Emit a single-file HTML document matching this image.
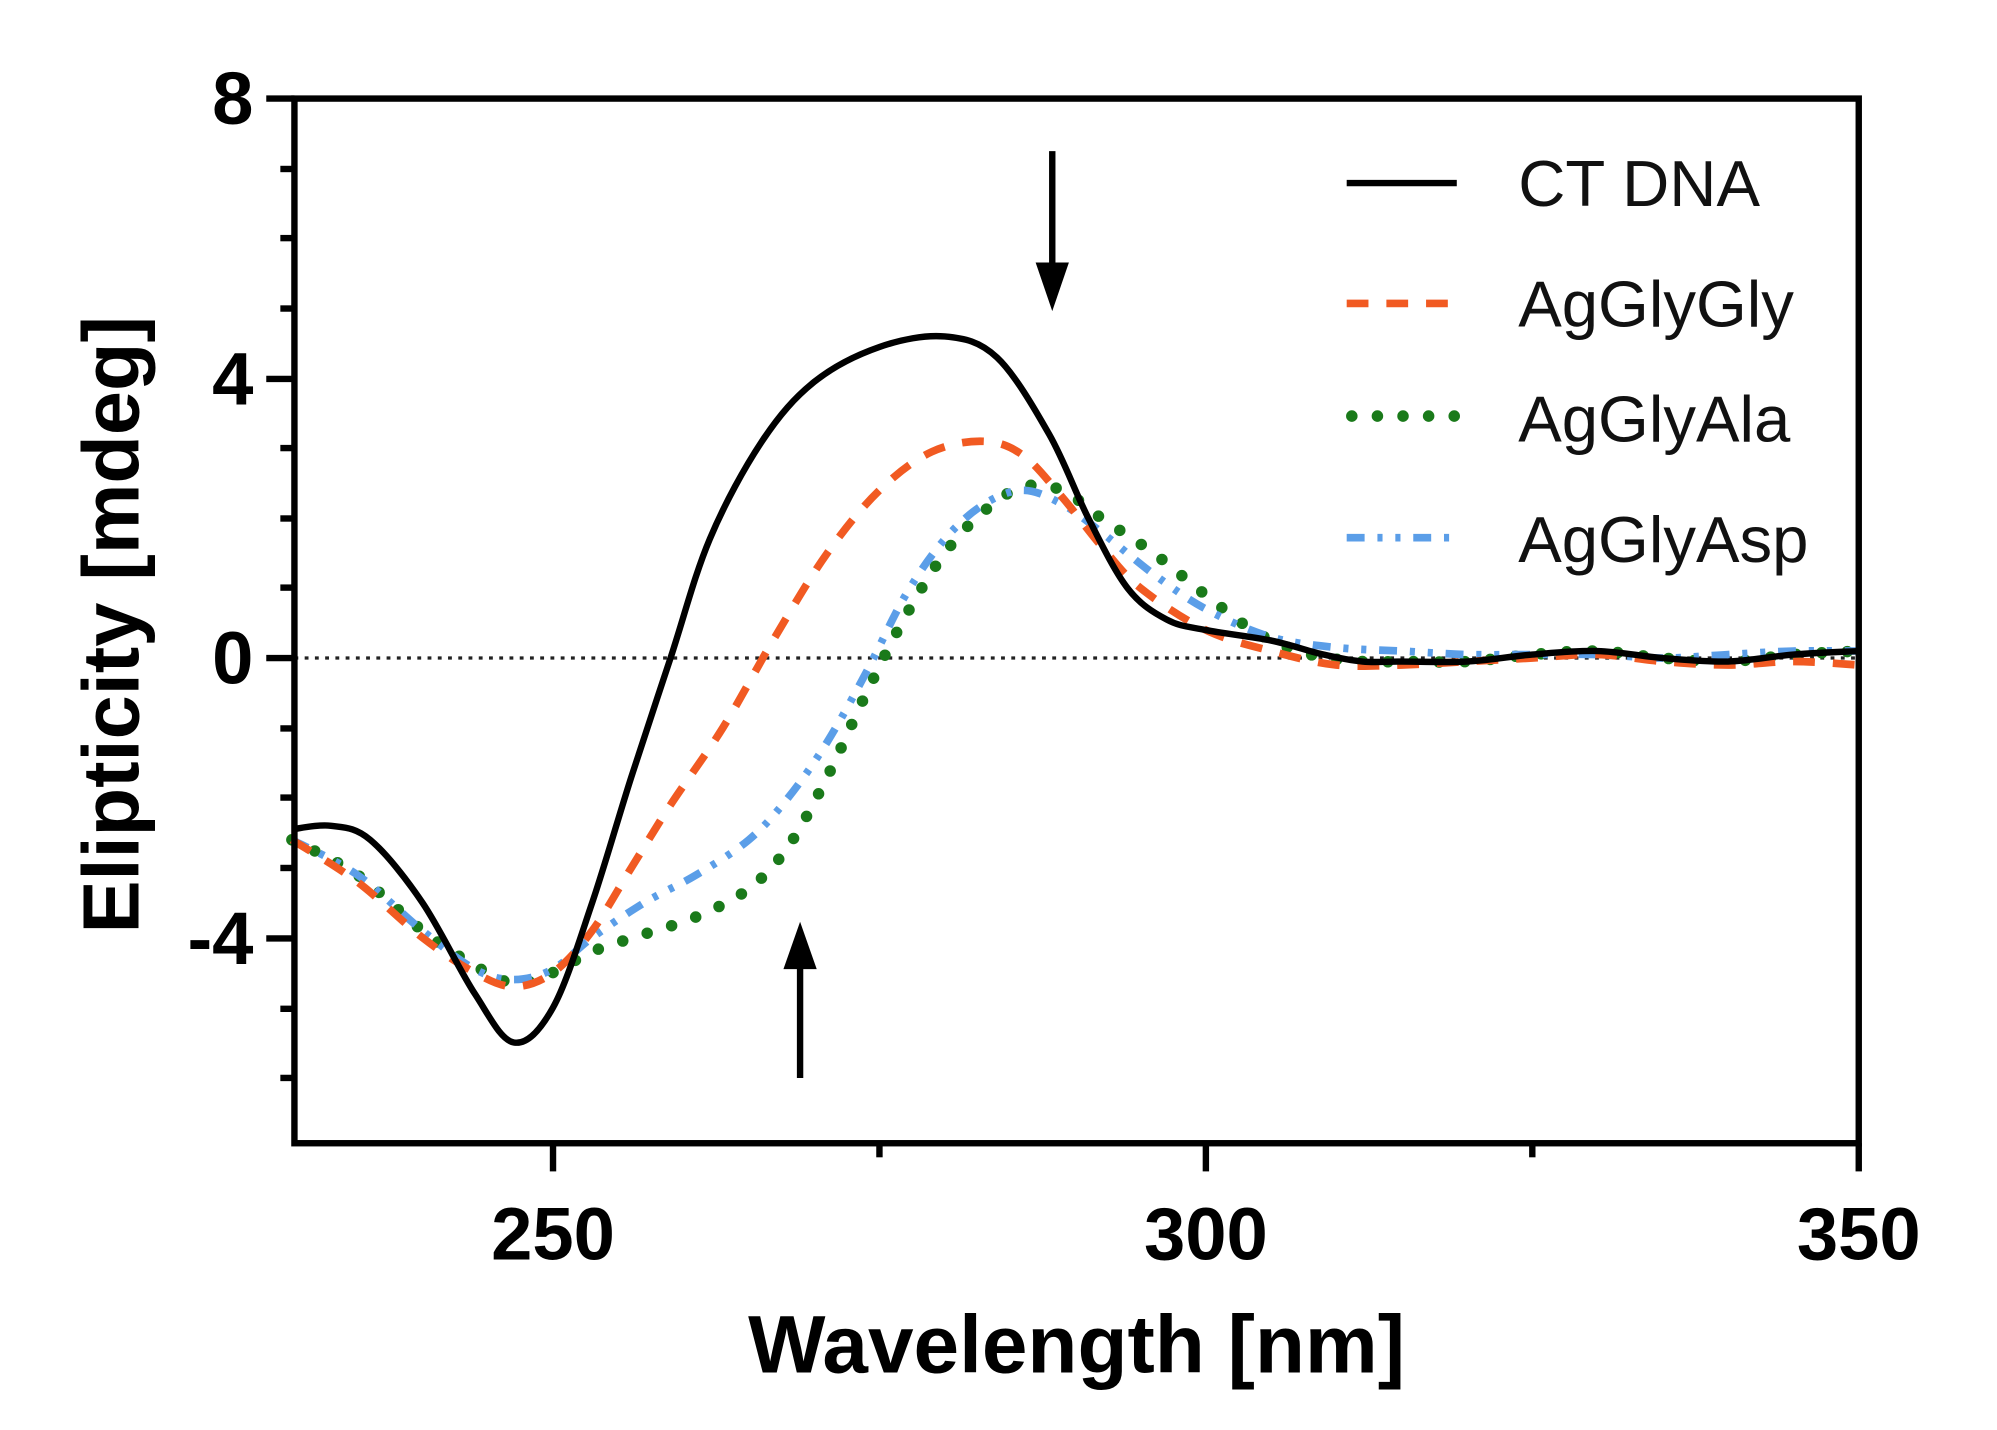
<!DOCTYPE html>
<html><head><meta charset="utf-8"><style>
html,body{margin:0;padding:0;background:#fff;}
svg{display:block;}
</style></head><body>
<svg id="s" width="1997" height="1430" viewBox="0 0 1560 1117" preserveAspectRatio="none" xmlns="http://www.w3.org/2000/svg" font-family="Liberation Sans, Arial, sans-serif">
<rect width="1560" height="1117" fill="#fff"/>
<line x1="230" y1="514" x2="1452" y2="514" stroke="#222" stroke-width="2.5" stroke-dasharray="3,5"/>
<g id="curves" fill="none"></g>
<rect x="230" y="77" width="1222" height="816" fill="none" stroke="#000" stroke-width="5"/>
<g stroke="#000" stroke-width="5">
<line x1="208" y1="77" x2="230" y2="77"/><line x1="208" y1="296" x2="230" y2="296"/><line x1="208" y1="514" x2="230" y2="514"/><line x1="208" y1="733" x2="230" y2="733"/>
<line x1="219" y1="132" x2="230" y2="132"/><line x1="219" y1="186" x2="230" y2="186"/><line x1="219" y1="241" x2="230" y2="241"/>
<line x1="219" y1="350" x2="230" y2="350"/><line x1="219" y1="405" x2="230" y2="405"/><line x1="219" y1="459" x2="230" y2="459"/>
<line x1="219" y1="569" x2="230" y2="569"/><line x1="219" y1="623" x2="230" y2="623"/><line x1="219" y1="678" x2="230" y2="678"/>
<line x1="219" y1="788" x2="230" y2="788"/><line x1="219" y1="842" x2="230" y2="842"/>
<line x1="432" y1="893" x2="432" y2="915"/><line x1="942" y1="893" x2="942" y2="915"/><line x1="1452" y1="893" x2="1452" y2="915"/>
<line x1="687" y1="893" x2="687" y2="904"/><line x1="1197" y1="893" x2="1197" y2="904"/>
</g>
<g font-weight="bold" font-size="58" fill="#000">
<text x="198" y="97" text-anchor="end">8</text>
<text x="198" y="316" text-anchor="end">4</text>
<text x="198" y="534" text-anchor="end">0</text>
<text x="198" y="753" text-anchor="end">-4</text>
<text x="432" y="984" text-anchor="middle">250</text>
<text x="942" y="984" text-anchor="middle">300</text>
<text x="1452" y="984" text-anchor="middle">350</text>
<text x="841" y="1072" text-anchor="middle" font-size="64">Wavelength [nm]</text>
<text transform="translate(108,488) rotate(-90)" text-anchor="middle" font-size="62">Elipticity [mdeg]</text>
</g>
<line x1="822" y1="118" x2="822" y2="210" stroke="#000" stroke-width="5"/>
<polygon points="809,205 835,205 822,243" fill="#000"/>
<line x1="625" y1="842" x2="625" y2="752" stroke="#000" stroke-width="5"/>
<polygon points="612,757 638,757 625,720" fill="#000"/>
<line x1="1052" y1="143" x2="1138" y2="143" stroke="#000" stroke-width="5"/>
<line x1="1052" y1="237" x2="1138" y2="237" stroke="#f15a22" stroke-width="6" stroke-dasharray="17,14"/>
<line x1="1052" y1="325" x2="1138" y2="325" stroke="#1a7a1a" stroke-width="9" stroke-linecap="round" stroke-dasharray="0,20" transform="translate(4,0)"/>
<line x1="1052" y1="420" x2="1138" y2="420" stroke="#5b9ee8" stroke-width="6" stroke-dasharray="14,10,4,10,4,10"/>
<g font-size="51" fill="#111">
<text x="1186" y="161">CT DNA</text>
<text x="1186" y="255">AgGlyGly</text>
<text x="1186" y="345">AgGlyAla</text>
<text x="1186" y="439">AgGlyAsp</text>
</g>
</svg>
<script>
function X(n){return 432+(n-250)*10.2;}
function Y(v){return 514-v*54.6;}
function path(pts){
  var p=pts.map(function(a){return [X(a[0]),Y(a[1])];});
  var d="M"+p[0][0]+","+p[0][1];
  for(var i=0;i<p.length-1;i++){
    var p0=p[i-1]||p[i],p1=p[i],p2=p[i+1],p3=p[i+2]||p[i+1];
    var c1x=p1[0]+(p2[0]-p0[0])/6,c1y=p1[1]+(p2[1]-p0[1])/6;
    var c2x=p2[0]-(p3[0]-p1[0])/6,c2y=p2[1]-(p3[1]-p1[1])/6;
    d+=" C"+c1x+","+c1y+" "+c2x+","+c2y+" "+p2[0]+","+p2[1];
  }
  return d;
}
var tail=[[315,-0.05],[320,-0.05],[325,0.05],[330,0.1],[335,0],[340,-0.05],[345,0.05],[350,0.1]];
var ct=[[230,-2.45],[233,-2.4],[236,-2.6],[240,-3.5],[244,-4.8],[247,-5.5],[250,-5.0],[253,-3.5],[256,-1.7],[259,0],[262,1.7],[266,3.1],[270,3.95],[275,4.45],[280,4.6],[284,4.3],[288,3.2],[291,2.0],[294,1.0],[297,0.55],[300,0.4],[305,0.25],[309,0.05],[312,-0.05]].concat(tail);
var gly=[[230,-2.6],[235,-3.2],[240,-4.0],[244,-4.5],[247,-4.7],[250,-4.5],[253,-3.9],[256,-3.0],[259,-2.1],[263,-1.0],[267,0.3],[271,1.5],[275,2.4],[279,2.95],[283,3.1],[286,2.9],[289,2.3],[292,1.6],[295,1.0],[300,0.4],[305,0.1],[310,-0.1],[315,-0.1],[320,-0.05],[325,0],[330,0.05],[335,-0.05],[340,-0.1],[345,-0.05],[350,-0.1]];
var ala=[[230,-2.6],[235,-3.1],[240,-3.9],[244,-4.4],[247,-4.65],[250,-4.5],[253,-4.2],[257,-3.95],[261,-3.7],[265,-3.3],[268,-2.7],[271,-1.7],[274,-0.5],[277,0.6],[280,1.5],[283,2.1],[286,2.45],[289,2.4],[292,2.0],[296,1.5],[300,0.9],[304,0.35],[308,0.05],[312,-0.05]].concat(tail);
var asp=[[230,-2.6],[235,-3.1],[240,-3.9],[244,-4.45],[247,-4.6],[250,-4.45],[253,-4.0],[257,-3.5],[261,-3.1],[265,-2.6],[268,-2.0],[271,-1.2],[274,-0.2],[277,0.9],[280,1.7],[283,2.2],[286,2.4],[289,2.2],[292,1.8],[296,1.2],[300,0.7],[305,0.3],[310,0.15],[315,0.1],[320,0.05],[325,0.05],[330,0.05],[335,0.0],[340,0.05],[345,0.1],[350,0.1]];
var g=document.getElementById("curves");
function add(pts,attrs){var e=document.createElementNS("http://www.w3.org/2000/svg","path");e.setAttribute("d",path(pts));for(var k in attrs)e.setAttribute(k,attrs[k]);g.appendChild(e);}
add(ala,{stroke:"#1a7a1a","stroke-width":"9","stroke-linecap":"round","stroke-dasharray":"0,20"});
add(asp,{stroke:"#5b9ee8","stroke-width":"6","stroke-dasharray":"14,10,4,10,4,10"});
add(gly,{stroke:"#f15a22","stroke-width":"6","stroke-dasharray":"17,14"});
add(ct,{stroke:"#000","stroke-width":"5"});
</script>
</body></html>
